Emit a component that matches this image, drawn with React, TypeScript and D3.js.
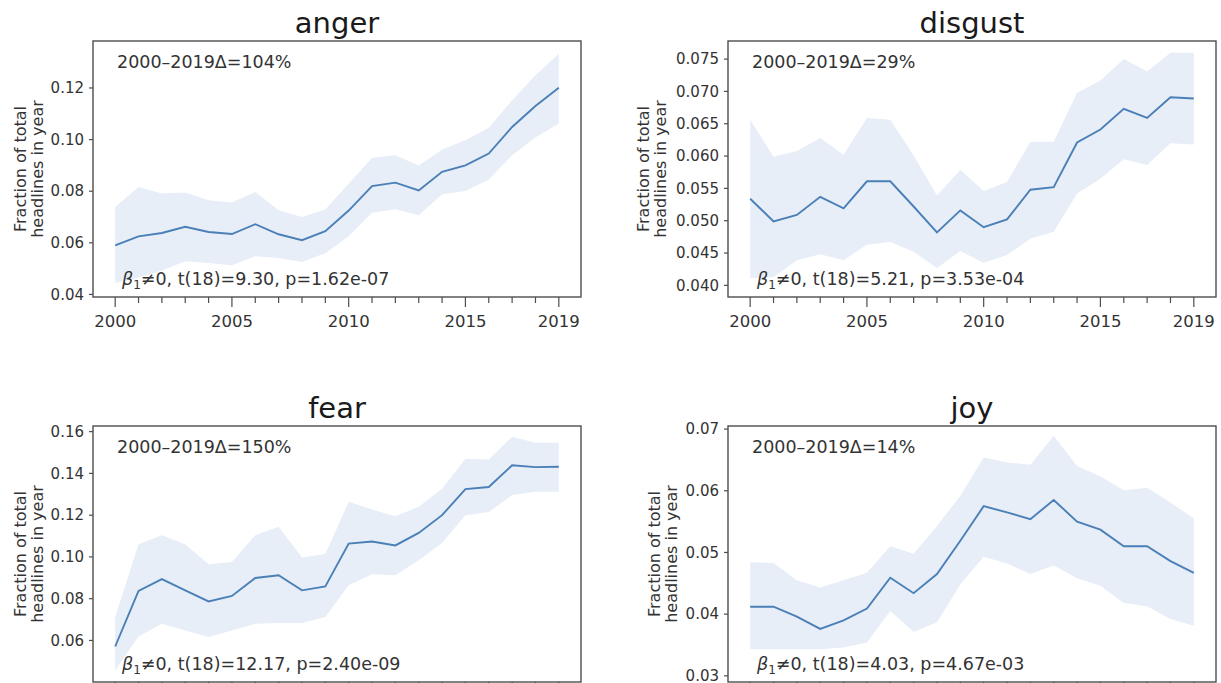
import React from "react";
import * as d3 from "d3";

// years on the x axis
const years = [2000, 2001, 2002, 2003, 2004, 2005, 2006, 2007, 2008, 2009, 2010, 2011, 2012, 2013, 2014, 2015, 2016, 2017, 2018, 2019];
const xTickLabels = [2000, 2005, 2010, 2015, 2019];

// anger
const angerMean = [0.0590, 0.0625, 0.0638, 0.0662, 0.0642, 0.0634, 0.0672, 0.0633, 0.0610, 0.0645, 0.0725, 0.0820, 0.0833, 0.0803, 0.0875, 0.0900, 0.0946, 0.1049, 0.1130, 0.1201];
const angerLow = [0.0444, 0.0465, 0.0493, 0.0529, 0.0522, 0.0513, 0.0548, 0.0541, 0.0526, 0.0560, 0.0625, 0.0716, 0.0730, 0.0707, 0.0788, 0.0801, 0.0845, 0.0939, 0.1008, 0.1062];
const angerHigh = [0.0739, 0.0816, 0.0791, 0.0795, 0.0765, 0.0756, 0.0797, 0.0726, 0.0700, 0.0729, 0.0829, 0.0930, 0.0939, 0.0900, 0.0962, 0.0997, 0.1046, 0.1152, 0.1249, 0.1333];

// disgust
const disgustMean = [0.0534, 0.0499, 0.0509, 0.0537, 0.0519, 0.0561, 0.0561, 0.0522, 0.0482, 0.0516, 0.0490, 0.0502, 0.0548, 0.0552, 0.0621, 0.0641, 0.0673, 0.0659, 0.0691, 0.0689];
const disgustLow = [0.0411, 0.0413, 0.0439, 0.0448, 0.0439, 0.0463, 0.0467, 0.0452, 0.0427, 0.0453, 0.0435, 0.0447, 0.0472, 0.0483, 0.0542, 0.0565, 0.0595, 0.0586, 0.0620, 0.0618];
const disgustHigh = [0.0656, 0.0599, 0.0608, 0.0628, 0.0602, 0.0659, 0.0656, 0.0601, 0.0539, 0.0579, 0.0546, 0.0560, 0.0622, 0.0622, 0.0698, 0.0717, 0.0750, 0.0731, 0.0760, 0.0760];

// fear
const fearMean = [0.0571, 0.0837, 0.0894, 0.0840, 0.0787, 0.0813, 0.0899, 0.0912, 0.0840, 0.0859, 0.1064, 0.1074, 0.1055, 0.1115, 0.1200, 0.1325, 0.1335, 0.1439, 0.1430, 0.1432];
const fearLow = [0.0456, 0.0619, 0.0680, 0.0648, 0.0616, 0.0648, 0.0680, 0.0683, 0.0683, 0.0712, 0.0864, 0.0917, 0.0912, 0.0984, 0.1067, 0.1199, 0.1215, 0.1296, 0.1312, 0.1312];
const fearHigh = [0.0712, 0.1061, 0.1104, 0.1061, 0.0965, 0.0976, 0.1104, 0.1144, 0.0997, 0.1014, 0.1264, 0.1227, 0.1195, 0.1240, 0.1326, 0.1470, 0.1466, 0.1576, 0.1547, 0.1547];

// joy
const joyMean = [0.0412, 0.0412, 0.0396, 0.0376, 0.0390, 0.0409, 0.0459, 0.0434, 0.0465, 0.0519, 0.0575, 0.0565, 0.0554, 0.0585, 0.0550, 0.0537, 0.0510, 0.0510, 0.0486, 0.0467];
const joyLow = [0.0343, 0.0343, 0.0343, 0.0343, 0.0346, 0.0354, 0.0405, 0.0371, 0.0387, 0.0448, 0.0493, 0.0482, 0.0465, 0.0479, 0.0458, 0.0446, 0.0418, 0.0413, 0.0392, 0.0381];
const joyHigh = [0.0484, 0.0483, 0.0455, 0.0443, 0.0455, 0.0467, 0.0510, 0.0498, 0.0543, 0.0592, 0.0654, 0.0646, 0.0642, 0.0689, 0.0640, 0.0623, 0.0601, 0.0605, 0.0581, 0.0555];

const titles = ["anger", "disgust", "fear", "joy"];
const deltaLabels = ["2000–2019Δ=104%", "2000–2019Δ=29%", "2000–2019Δ=150%", "2000–2019Δ=14%"];
const statLabels = ["≠0, t(18)=9.30, p=1.62e-07", "≠0, t(18)=5.21, p=3.53e-04", "≠0, t(18)=12.17, p=2.40e-09", "≠0, t(18)=4.03, p=4.67e-03"];

const angerTicks = [0.04, 0.06, 0.08, 0.1, 0.12];
const disgustTicks = [0.04, 0.045, 0.05, 0.055, 0.06, 0.065, 0.07, 0.075];
const fearTicks = [0.06, 0.08, 0.1, 0.12, 0.14, 0.16];
const joyTicks = [0.03, 0.04, 0.05, 0.06, 0.07];

const series = [
  { mean: angerMean, low: angerLow, high: angerHigh, ticks: angerTicks, domain: [0.0390, 0.1382], fmt: ".2f" },
  { mean: disgustMean, low: disgustLow, high: disgustHigh, ticks: disgustTicks, domain: [0.0382, 0.0778], fmt: ".3f" },
  { mean: fearMean, low: fearLow, high: fearHigh, ticks: fearTicks, domain: [0.0401, 0.1627], fmt: ".2f" },
  { mean: joyMean, low: joyLow, high: joyHigh, ticks: joyTicks, domain: [0.0290, 0.0705], fmt: ".2f" },
];

// axes boxes in page pixels (bottom row's year labels fall below the page)
const boxes = [
  { left: 93, top: 41, width: 488, height: 256, labelOff: 73, showYears: true },
  { left: 728, top: 41, width: 488, height: 256, labelOff: 85, showYears: true },
  { left: 93, top: 426, width: 488, height: 256, labelOff: 73, showYears: false },
  { left: 728, top: 426, width: 488, height: 256, labelOff: 74, showYears: false },
];

const FONT = "DejaVu Sans, sans-serif";
const LINE = "#4a7fb7";
const BAND = "#e7eef7";
const FRAME = "#4d4d4d";
const TEXT = "#333";

function Panel({ i }: { i: number }) {
  const b = boxes[i];
  const s = series[i];
  const x = d3.scaleLinear().domain([1999.05, 2019.95]).range([0, b.width]);
  const y = d3.scaleLinear().domain(s.domain).range([b.height, 0]);

  const rows = years.map((yr, k) => ({ yr, m: s.mean[k], lo: s.low[k], hi: s.high[k] }));
  const area = d3.area<any>().x((d) => x(d.yr)).y0((d) => y(d.lo)).y1((d) => y(d.hi));
  const line = d3.line<any>().x((d) => x(d.yr)).y((d) => y(d.m));
  const fmt = d3.format(s.fmt);

  return (
    <g transform={`translate(${b.left},${b.top})`} fontFamily={FONT}>
      <text x={b.width / 2} y={-8} textAnchor="middle" fontSize={29} fill="#1a1a1a">
        {titles[i]}
      </text>
      <path d={area(rows) || ""} fill={BAND} />
      <path d={line(rows) || ""} fill="none" stroke={LINE} strokeWidth={1.9} />
      <rect x={0} y={0} width={b.width} height={b.height} fill="none" stroke={FRAME} strokeWidth={1.4} />
      {s.ticks.map((t) => (
        <g key={t} transform={`translate(0,${y(t)})`}>
          <line x1={-4} x2={0} stroke={FRAME} strokeWidth={1.2} />
          <text x={-9} dy="0.35em" textAnchor="end" fontSize={15} fill={TEXT}>
            {fmt(t)}
          </text>
        </g>
      ))}
      {years.map((yr) => {
        const major = xTickLabels.includes(yr);
        return (
          <g key={yr} transform={`translate(${x(yr)},${b.height})`}>
            <line y1={0} y2={major ? 10 : 6} stroke={FRAME} strokeWidth={1.2} />
            {major && b.showYears && (
              <text y={30} textAnchor="middle" fontSize={16.5} fill={TEXT}>
                {yr}
              </text>
            )}
          </g>
        );
      })}
      <g transform={`translate(${-b.labelOff},${b.height / 2}) rotate(-90)`} fontSize={16} fill={TEXT} textAnchor="middle">
        <text dy="0.35em">Fraction of total</text>
        <text y={17} dy="0.35em">headlines in year</text>
      </g>
      <text x={24} y={26.5} fontSize={17.5} fill={TEXT}>
        {deltaLabels[i]}
      </text>
      <text x={29} y={b.height - 12} fontSize={17.5} fill={TEXT}>
        <tspan fontStyle="italic">β</tspan>
        <tspan fontSize={12} dy={4}>1</tspan>
        <tspan dy={-4}>{statLabels[i]}</tspan>
      </text>
    </g>
  );
}

export default function App() {
  return (
    <svg
      width={1221}
      height={683}
      style={{ position: "absolute", left: 0, top: 0, background: "#fff" }}
    >
      <rect width={1221} height={683} fill="#fff" />
      {titles.map((_, i) => (
        <Panel key={i} i={i} />
      ))}
    </svg>
  );
}
